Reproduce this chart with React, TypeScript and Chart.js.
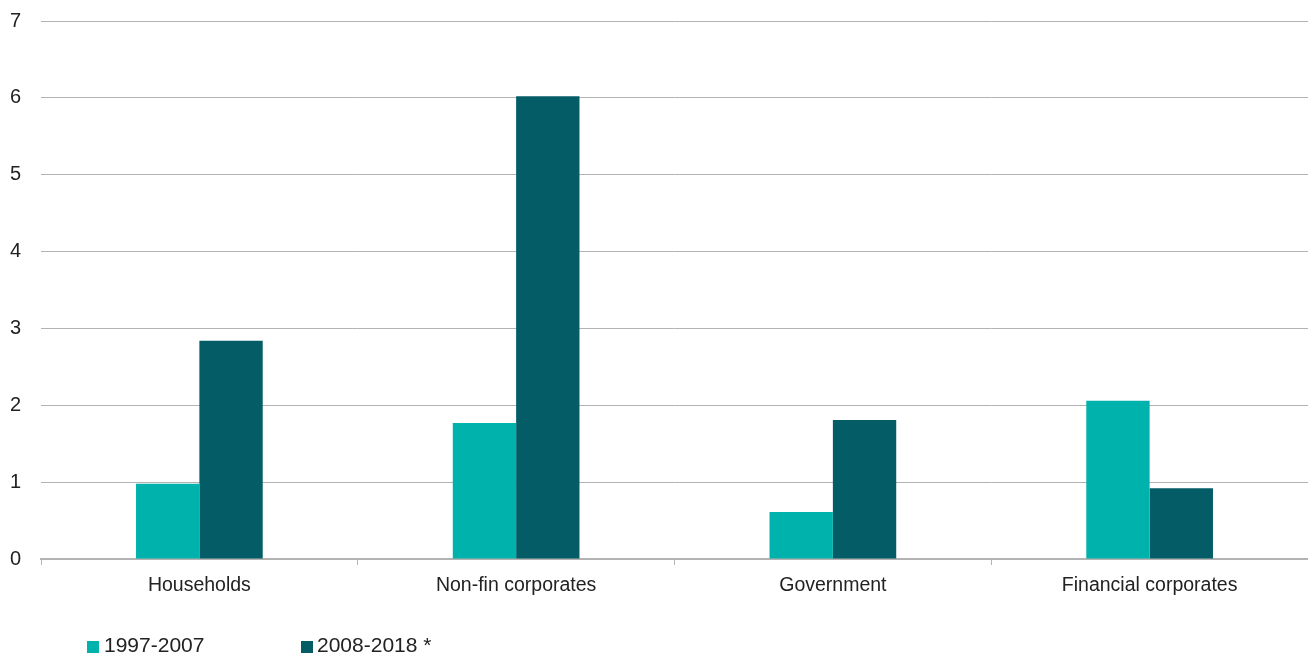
import React, { useEffect, useRef } from "react";
import { Chart, registerables } from "chart.js";

Chart.register(...registerables);

const categories = ["Households", "Non-fin corporates", "Government", "Financial corporates"];
const seriesNames = ["1997-2007", "2008-2018 *"];
const series1997 = [0.98, 1.77, 0.61, 2.06];
const series2008 = [2.84, 6.02, 1.81, 0.92];
const seriesColors = ["#00B2AC", "#035C66"];
const yTicks = [0, 1, 2, 3, 4, 5, 6, 7];

const FONT = "'Liberation Sans', Arial, Helvetica, sans-serif";

export default function App() {
  const ref = useRef<HTMLCanvasElement | null>(null);

  useEffect(() => {
    document.body.style.margin = "0";
    const canvas = ref.current;
    if (!canvas) return;
    const chart = new Chart(canvas, {
      type: "bar",
      data: {
        labels: categories,
        datasets: [
          {
            label: seriesNames[0],
            data: series1997,
            backgroundColor: seriesColors[0],
            categoryPercentage: 0.4,
            barPercentage: 1.0,
          },
          {
            label: seriesNames[1],
            data: series2008,
            backgroundColor: seriesColors[1],
            categoryPercentage: 0.4,
            barPercentage: 1.0,
          },
        ],
      },
      options: {
        responsive: false,
        animation: false,
        layout: { padding: { top: 21, right: 0, bottom: 0, left: 10 } },
        plugins: {
          legend: { display: false },
          tooltip: { enabled: false },
        },
        scales: {
          x: {
            grid: {
              display: true,
              drawOnChartArea: false,
              drawTicks: true,
              tickLength: 6,
              offset: true,
              color: "#b3b3b3",
              lineWidth: 1,
            },
            border: { display: true, color: "#b3b3b3", width: 2 },
            ticks: {
              color: "#222",
              padding: 9,
              font: { family: FONT, size: 19.5 },
              maxRotation: 0,
            },
            afterFit: (scale: any) => {
              scale.height = 97;
            },
          },
          y: {
            min: 0,
            max: 7,
            afterBuildTicks: (scale: any) => {
              scale.ticks = yTicks.map((v) => ({ value: v }));
            },
            grid: {
              display: true,
              drawTicks: false,
              color: "#b3b3b3",
              lineWidth: 1,
            },
            border: { display: false },
            ticks: {
              color: "#222",
              padding: 0,
              crossAlign: "far",
              font: { family: FONT, size: 20 },
            },
            afterFit: (scale: any) => {
              scale.width = 31;
            },
          },
        },
      },
    });
    return () => chart.destroy();
  }, []);

  const legendItems = [
    { left: 87, textLeft: 104, label: seriesNames[0], color: seriesColors[0] },
    { left: 301, textLeft: 317, label: seriesNames[1], color: seriesColors[1] },
  ];

  return (
    <div style={{ position: "absolute", left: 0, top: 0, width: 1308, height: 656 }}>
      <canvas ref={ref} width={1308} height={656} style={{ display: "block", width: 1308, height: 656 }} />
      {legendItems.map((it) => (
        <React.Fragment key={it.label}>
          <div
            style={{
              position: "absolute",
              left: it.left,
              top: 641,
              width: 12,
              height: 12,
              background: it.color,
            }}
          />
          <div
            style={{
              position: "absolute",
              left: it.textLeft,
              top: 634,
              fontFamily: FONT,
              fontSize: 21,
              lineHeight: "21px",
              color: "#222",
              whiteSpace: "nowrap",
            }}
          >
            {it.label}
          </div>
        </React.Fragment>
      ))}
    </div>
  );
}
